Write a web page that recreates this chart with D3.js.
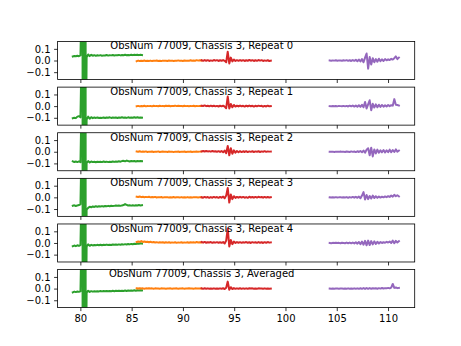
<!DOCTYPE html>
<html>
<head>
<meta charset="utf-8">
<script src="https://cdn.jsdelivr.net/npm/d3@7"></script>
<style>
  html, body { margin: 0; padding: 0; background: #fff; }
  svg { display: block; }
  text { font-family: "DejaVu Sans", sans-serif; fill: #000; }
</style>
</head>
<body>
<script>
// Panel titles, one per stacked subplot
const panelTitles = [
  "ObsNum 77009, Chassis 3, Repeat 0",
  "ObsNum 77009, Chassis 3, Repeat 1",
  "ObsNum 77009, Chassis 3, Repeat 2",
  "ObsNum 77009, Chassis 3, Repeat 3",
  "ObsNum 77009, Chassis 3, Repeat 4",
  "ObsNum 77009, Chassis 3, Averaged"
];

const xTicks = [80, 85, 90, 95, 100, 105, 110];
const yTicks = [-0.1, 0.0, 0.1];

// Band segments: first sample position and sample spacing
const segStart = [79.26, 85.49, 91.82, 104.31];
const sampleStep = 0.15;
const segColors = ["#2ca02c", "#ff7f0e", "#d62728", "#9467bd"];

// Strong ringing in the green band near 80.3 (finely sampled, same in all panels)
const burstStart = 80.2;
const burstStep = 0.03;
const burstValues = [0.9,-0.9,0.9,-0.9,0.9,-0.9,0.9,-0.9,0.9,-0.9,0.9,-0.9];

// Green band, one row per panel (null where the ringing burst sits)
const greenValues = [
  [0.035,0.039,0.036,0.041,0.037,0.044, null,null,null,
   0.028,0.052,0.038,0.049,0.041,0.046,0.040,0.045,0.042,0.046,
   0.041,0.044,0.043,0.047,0.042,0.045,0.044,0.047,0.043,0.046,
   0.045,0.048,0.044,0.047,0.045,0.049,0.045,0.048,0.046,0.050,
   0.046,0.049,0.047,0.050,0.046,0.049,0.047],
  [-0.104,-0.100,-0.103,-0.090,-0.086,-0.096, null,null,null,
   -0.115,-0.090,-0.108,-0.095,-0.103,-0.098,-0.101,-0.097,-0.102,-0.099,
   -0.101,-0.097,-0.102,-0.098,-0.100,-0.096,-0.101,-0.098,-0.100,-0.097,
   -0.102,-0.098,-0.100,-0.096,-0.099,-0.097,-0.101,-0.096,-0.099,-0.097,
   -0.100,-0.095,-0.099,-0.096,-0.100,-0.097,-0.099],
  [-0.082,-0.088,-0.084,-0.089,-0.083,-0.090, null,null,null,
   -0.095,-0.080,-0.092,-0.084,-0.089,-0.086,-0.090,-0.085,-0.088,-0.086,
   -0.089,-0.084,-0.088,-0.085,-0.089,-0.086,-0.088,-0.083,-0.087,-0.084,
   -0.086,-0.082,-0.085,-0.080,-0.078,-0.082,-0.076,-0.080,-0.083,-0.079,
   -0.082,-0.080,-0.083,-0.079,-0.082,-0.080,-0.081],
  [-0.072,-0.068,-0.074,-0.069,-0.066,-0.060, null,null,null,
   -0.105,-0.090,-0.080,-0.085,-0.078,-0.082,-0.076,-0.080,-0.077,-0.079,
   -0.075,-0.078,-0.074,-0.077,-0.073,-0.076,-0.072,-0.075,-0.073,-0.070,
   -0.072,-0.070,-0.073,-0.069,-0.066,-0.058,-0.064,-0.070,-0.068,-0.071,
   -0.068,-0.071,-0.067,-0.069,-0.066,-0.069,-0.067],
  [-0.028,-0.022,-0.027,-0.020,-0.025,-0.018, null,null,null,
   -0.030,-0.012,-0.024,-0.016,-0.021,-0.017,-0.020,-0.016,-0.019,-0.015,
   -0.019,-0.016,-0.018,-0.014,-0.018,-0.015,-0.017,-0.013,-0.016,-0.014,
   -0.016,-0.012,-0.015,-0.011,-0.014,-0.010,-0.013,-0.009,-0.012,-0.008,
   -0.011,-0.007,-0.009,-0.005,-0.007,-0.003,-0.005],
  [-0.032,-0.026,-0.030,-0.025,-0.028,-0.024, null,null,null,
   -0.035,-0.018,-0.029,-0.022,-0.026,-0.023,-0.025,-0.022,-0.024,-0.021,
   -0.024,-0.021,-0.023,-0.020,-0.023,-0.020,-0.022,-0.019,-0.022,-0.019,
   -0.021,-0.018,-0.021,-0.018,-0.020,-0.017,-0.020,-0.016,-0.019,-0.016,
   -0.018,-0.015,-0.018,-0.014,-0.017,-0.014,-0.016]
];

// Orange band
const orangeValues = [
  [-0.006,-0.001,-0.005,-0.002,-0.004,0.000,-0.005,-0.002,-0.004,-0.001,
   -0.005,-0.002,-0.003,0.000,-0.004,-0.002,-0.005,-0.001,-0.003,-0.002,
   -0.004,0.000,-0.003,-0.001,-0.004,-0.002,-0.003,0.001,-0.003,-0.001,
   -0.004,0.000,-0.002,-0.001,-0.003,0.002,-0.002,0.000,-0.002,0.003,
   -0.001,0.002,0.000],
  [-0.001,0.002,-0.002,0.001,-0.001,0.003,-0.002,0.001,0.000,0.002,
   -0.002,0.003,0.000,0.002,-0.001,0.003,0.000,0.002,-0.001,0.004,
   0.001,0.003,-0.001,0.002,0.001,0.004,0.000,0.003,0.001,0.002,
   -0.001,0.003,0.000,0.002,-0.001,0.002,0.000,0.003,-0.001,0.002,
   0.000,0.002,0.001],
  [0.003,0.000,0.004,-0.001,0.002,0.000,0.003,-0.002,0.001,0.000,
   0.002,-0.002,0.001,-0.001,0.003,-0.002,0.000,0.002,-0.001,0.001,
   -0.002,0.002,-0.001,0.001,-0.003,0.001,-0.001,0.002,-0.002,0.001,
   -0.001,0.002,-0.002,0.000,-0.001,0.002,-0.002,0.001,0.000,0.002,
   -0.001,0.001,0.002],
  [0.006,0.003,0.007,0.002,0.005,0.001,0.004,0.002,0.005,0.000,
   0.003,0.001,0.004,-0.001,0.002,0.000,0.003,-0.002,0.002,0.000,
   0.002,-0.002,0.001,-0.001,0.003,-0.002,0.001,0.000,-0.002,0.002,
   -0.001,0.001,-0.002,0.002,-0.001,0.001,-0.002,0.002,0.000,0.001,
   -0.001,0.002,0.001],
  [0.008,0.012,0.010,0.016,0.009,0.013,0.008,0.011,0.006,0.010,
   0.005,0.008,0.004,0.007,0.003,0.006,0.004,0.007,0.002,0.006,
   0.003,0.006,0.002,0.005,0.003,0.006,0.001,0.005,0.003,0.006,
   0.002,0.005,0.003,0.006,0.002,0.007,0.004,0.006,0.003,0.008,
   0.004,0.007,0.005],
  [0.002,0.000,0.003,0.000,0.002,-0.001,0.002,0.000,0.003,0.001,
   0.002,-0.001,0.002,0.000,0.001,-0.001,0.002,0.000,0.001,-0.001,
   0.001,0.000,0.002,-0.001,0.001,0.000,0.002,-0.001,0.001,0.000,
   0.002,-0.001,0.001,0.000,0.002,0.000,0.001,-0.001,0.002,0.000,
   0.001,0.000,0.001]
];

// Red band
const redValues = [
  [0.002,-0.003,0.004,-0.002,0.003,-0.004,0.001,-0.003,0.004,-0.001,
   0.003,-0.004,0.002,-0.002,0.004,-0.003,
   -0.015,0.075,-0.025,0.025,-0.008,0.008,
   -0.004,0.003,-0.003,0.004,-0.002,0.003,-0.004,0.002,-0.003,0.005,
   -0.002,0.003,-0.004,0.002,-0.003,0.004,-0.001,0.003,-0.004,0.001,
   -0.003,0.002,-0.004,-0.002],
  [0.004,0.001,0.006,0.000,0.003,-0.002,0.004,-0.001,0.003,-0.002,
   0.002,-0.003,0.003,-0.002,0.004,-0.004,
   -0.018,0.082,-0.020,0.018,-0.010,0.010,
   -0.004,0.004,-0.003,0.005,-0.002,0.003,-0.004,0.004,-0.003,0.005,
   -0.001,0.003,-0.004,0.003,-0.002,0.004,0.000,0.003,-0.004,0.002,
   -0.003,0.004,-0.002,0.000],
  [0.003,0.006,0.002,0.007,0.003,0.005,0.001,0.006,0.002,0.004,
   0.000,0.005,-0.002,0.006,-0.004,0.010,
   -0.012,0.050,-0.030,0.030,-0.018,0.012,
   -0.008,0.006,-0.004,0.005,-0.003,0.004,-0.002,0.005,-0.003,0.003,
   -0.001,0.004,-0.002,0.003,0.000,0.004,-0.002,0.003,0.000,0.005,
   -0.001,0.003,0.001,0.002],
  [0.001,-0.003,0.004,-0.002,0.003,-0.004,0.002,-0.003,0.004,-0.002,
   0.003,-0.004,0.004,-0.003,0.006,-0.008,
   0.015,0.080,-0.045,0.025,-0.015,0.010,
   -0.005,0.004,-0.003,0.005,-0.002,0.004,-0.003,0.002,-0.004,0.005,
   -0.001,0.003,-0.003,0.004,-0.002,0.005,0.000,0.003,-0.003,0.004,
   -0.002,0.003,-0.001,0.002],
  [0.008,0.003,0.009,0.002,0.007,0.004,0.008,0.001,0.006,0.003,
   0.007,0.002,0.006,0.001,0.008,-0.005,
   0.020,0.125,-0.030,0.025,-0.010,0.012,
   0.000,0.008,0.002,0.007,0.001,0.006,0.003,0.008,0.002,0.006,
   0.000,0.007,0.003,0.006,0.001,0.008,0.002,0.006,0.000,0.007,
   0.002,0.008,0.003,0.005],
  [0.002,-0.002,0.003,-0.001,0.002,-0.002,0.001,-0.001,0.002,-0.002,
   0.001,-0.002,0.002,-0.001,0.003,-0.004,
   0.008,0.060,-0.010,0.012,-0.004,0.004,
   -0.002,0.002,-0.001,0.003,-0.002,0.002,-0.001,0.002,-0.002,0.003,
   0.000,0.002,-0.002,0.001,-0.001,0.002,0.000,0.001,-0.002,0.002,
   -0.001,0.001,-0.002,0.000]
];

// Purple band
const purpleValues = [
  [0.000,-0.002,0.001,-0.001,0.002,-0.002,0.001,0.000,-0.002,0.002,
   -0.001,0.003,-0.003,0.002,-0.004,0.004,-0.003,0.006,-0.006,0.008,
   -0.008,0.012,-0.015,0.025,0.060,-0.070,0.030,-0.035,0.020,-0.015,
   0.012,-0.010,0.015,-0.006,0.010,-0.004,0.012,0.002,0.010,0.004,
   0.014,0.008,0.020,0.035,0.012,0.025],
  [0.000,-0.002,0.001,-0.001,0.001,-0.002,0.002,0.000,-0.001,0.002,
   -0.002,0.002,-0.003,0.004,-0.002,0.005,-0.004,0.006,-0.005,0.008,
   -0.006,0.012,-0.010,0.035,-0.020,0.015,0.050,-0.035,0.020,-0.012,
   0.015,-0.010,0.012,-0.006,0.010,-0.005,0.008,-0.003,0.010,0.000,
   0.008,0.004,0.060,0.012,0.010,0.005],
  [0.000,-0.001,0.001,-0.002,0.001,0.000,-0.001,0.002,-0.001,0.001,
   -0.002,0.002,0.000,-0.002,0.003,-0.001,0.002,-0.003,0.004,-0.002,
   0.006,-0.004,0.010,-0.008,0.018,0.030,-0.030,0.035,-0.040,0.020,
   -0.015,0.018,-0.008,0.012,-0.005,0.015,-0.006,0.012,-0.004,0.018,
   -0.004,0.015,-0.002,0.020,0.000,0.010],
  [0.000,-0.002,0.001,-0.001,0.002,-0.001,0.000,0.002,-0.002,0.001,
   -0.001,0.002,-0.003,0.002,-0.002,0.004,-0.003,0.005,-0.004,0.006,
   -0.008,0.015,0.045,-0.018,0.020,-0.015,0.012,-0.010,0.015,-0.006,
   0.010,-0.004,0.008,-0.002,0.006,0.000,0.008,0.002,0.010,0.004,
   0.015,0.006,0.022,0.010,0.018,0.008],
  [0.000,-0.002,0.001,-0.001,0.002,-0.001,0.001,-0.002,0.002,0.000,
   -0.002,0.003,-0.002,0.003,-0.003,0.004,-0.004,0.006,-0.006,0.008,
   -0.010,0.012,-0.015,0.018,-0.020,0.020,-0.018,0.016,-0.012,0.014,
   -0.008,0.010,-0.004,0.008,0.000,0.006,0.002,0.010,0.004,0.012,
   0.000,0.020,-0.002,0.018,0.004,0.015],
  [0.000,-0.001,0.001,-0.001,0.001,0.000,-0.001,0.001,0.000,-0.001,
   0.001,-0.001,0.002,-0.001,0.001,-0.002,0.002,-0.001,0.002,-0.002,
   0.003,-0.002,0.004,-0.003,0.005,-0.002,0.004,-0.001,0.003,0.000,
   0.003,-0.001,0.004,0.000,0.005,0.001,0.004,0.002,0.006,0.002,
   0.008,0.040,0.006,0.010,0.004,0.006]
];

const bands = [greenValues, orangeValues, redValues, purpleValues];

// Figure geometry
const W = 461, H = 346;
const plotLeft = 57.6, plotRight = 414.7;
const plotTop = 41.5, plotBottom = 307.6;
const nRows = panelTitles.length;
const hspace = 0.2;
const axH = (plotBottom - plotTop) / (nRows + (nRows - 1) * hspace);
const gap = axH * hspace;
const titleCenterX = 201.7;

const x = d3.scaleLinear().domain([77.78, 112.6]).range([plotLeft, plotRight]);
const y = d3.scaleLinear().domain([-0.163, 0.163]).range([axH, 0]);
const fmtY = d3.format(".1f");

const svg = d3.select("body").append("svg")
  .attr("width", W).attr("height", H);
svg.append("rect").attr("width", W).attr("height", H).attr("fill", "#fff");

const line = d3.line().x(d => x(d[0])).y(d => y(d[1]));

// Builds the sample points of one band in one panel
function bandPoints(s, k) {
  const pts = bands[s][k]
    .map((v, i) => [segStart[s] + i * sampleStep, v])
    .filter(d => d[1] !== null);
  if (s !== 0) return pts;
  const burst = burstValues.map((v, i) => [burstStart + i * burstStep, v]);
  const bEnd = burst[burst.length - 1][0];
  return pts.filter(d => d[0] < burstStart)
    .concat(burst)
    .concat(pts.filter(d => d[0] > bEnd));
}

panelTitles.forEach((title, k) => {
  const y0 = plotTop + k * (axH + gap);
  const g = svg.append("g").attr("transform", `translate(0,${y0})`);

  g.append("clipPath").attr("id", "clip" + k)
    .append("rect").attr("x", plotLeft).attr("y", 0)
    .attr("width", plotRight - plotLeft).attr("height", axH);

  const plot = g.append("g").attr("clip-path", `url(#clip${k})`);
  bands.forEach((band, s) => {
    plot.append("path")
      .attr("d", line(bandPoints(s, k)))
      .attr("fill", "none")
      .attr("stroke", segColors[s])
      .attr("stroke-width", 2)
      .attr("stroke-linejoin", "round")
      .attr("stroke-linecap", "square");
  });

  // Title inside the top of each panel
  g.append("text")
    .attr("x", titleCenterX)
    .attr("y", 7.8)
    .attr("text-anchor", "middle")
    .attr("font-size", 10)
    .text(title);

  // Frame
  g.append("rect")
    .attr("x", plotLeft).attr("y", 0)
    .attr("width", plotRight - plotLeft).attr("height", axH)
    .attr("fill", "none").attr("stroke", "#000").attr("stroke-width", 0.8);

  // Y axis
  const yAxis = d3.axisLeft(y).tickValues(yTicks).tickFormat(fmtY)
    .tickSize(3.5).tickPadding(3.5);
  const ya = g.append("g").attr("transform", `translate(${plotLeft},0)`).call(yAxis);
  ya.select(".domain").remove();
  ya.selectAll(".tick line").attr("stroke", "#000").attr("stroke-width", 0.8);
  ya.selectAll(".tick text").attr("font-size", 10)
    .attr("font-family", "DejaVu Sans").attr("fill", "#000");

  // X axis (labels only on the bottom panel)
  const xAxis = d3.axisBottom(x).tickValues(xTicks)
    .tickFormat(k === nRows - 1 ? d3.format("d") : () => "")
    .tickSize(3.5).tickPadding(3.5);
  const xa = g.append("g").attr("transform", `translate(0,${axH})`).call(xAxis);
  xa.select(".domain").remove();
  xa.selectAll(".tick line").attr("stroke", "#000").attr("stroke-width", 0.8);
  xa.selectAll(".tick text").attr("font-size", 10)
    .attr("font-family", "DejaVu Sans").attr("fill", "#000");
});
</script>
</body>
</html>
